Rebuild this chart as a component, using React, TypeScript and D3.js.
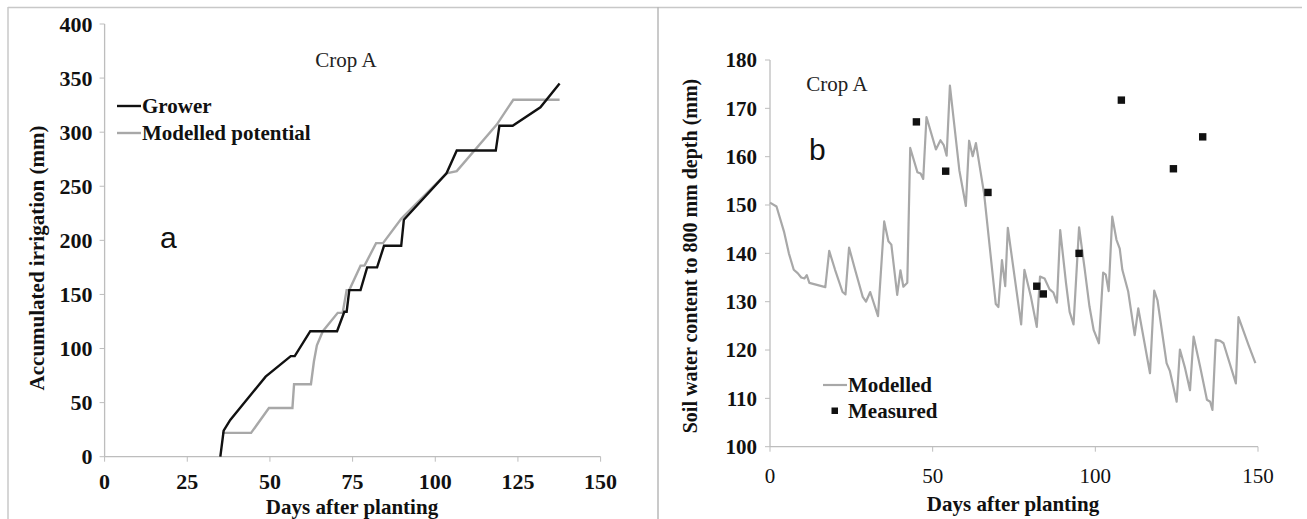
import React from "react";
import * as d3 from "d3";

const width = 1307;
const height = 519;

// panel a: accumulated irrigation
const growerDays = [35, 36, 38, 48.7, 56.3, 57.5, 62.2, 70.3, 72.5, 73.2, 74, 77.4, 79.4, 82.4, 84.5, 89.7, 90.5, 103.4, 106.5, 118.3, 119.4, 123.4, 131.8, 137.6];
const growerMm = [0, 24, 34, 74, 93, 93, 116, 116, 134, 134, 154, 154, 175, 175, 195, 195, 219, 262, 283, 283, 306, 306, 323, 345];
const potentialDays = [35.5, 44.3, 49.7, 56.8, 57.3, 62.4, 63.3, 64.2, 66, 70.5, 72, 73.2, 74, 77.4, 78.6, 82.1, 84.2, 89.7, 103.4, 106.5, 118.6, 123.6, 137.6];
const potentialMm = [22, 22, 45, 45, 67, 67, 88, 103, 116, 133, 133, 154, 154, 176.6, 176.6, 197.4, 197.4, 220, 262, 264, 307, 330, 330];
const xTicksA = [0, 25, 50, 75, 100, 125, 150];
const yTicksA = [0, 50, 100, 150, 200, 250, 300, 350, 400];

// panel b: soil water content
const swDays = [0, 2, 4.3, 5.8, 7.3, 8.5, 9.6, 10.6, 11.3, 12.1, 17, 18.2, 20, 22.3, 23.2, 24.3, 26.2, 28.5, 29.5, 30.8, 33.2, 35.1, 36.4, 37.3, 39.1, 40.1, 41, 42.2, 43.1, 45.3, 46.3, 47.1, 48.1, 51, 52.4, 53.4, 54.3, 55.3, 58.2, 60.2, 61.2, 62.3, 63.3, 65.8, 69.4, 70.2, 71.3, 72.3, 73.1, 77.2, 78.2, 80.2, 82, 83, 84.4, 85.9, 87.1, 88.2, 89.2, 91, 92.1, 93.3, 95, 96.7, 98.2, 99.5, 101.1, 102.4, 103.2, 104.1, 105.2, 106.5, 107.5, 108.3, 110.1, 112.1, 113.2, 116.8, 118.1, 119.1, 121.9, 122.9, 125, 126, 127.6, 129.1, 130.2, 132.2, 134.3, 135.3, 136, 137, 138.4, 139.4, 143.2, 144, 147.1, 149.2];
const swModelled = [150.5, 149.7, 144.5, 140, 136.6, 135.9, 135, 134.8, 135.5, 133.9, 133, 140.5, 136.6, 132, 131.5, 141.2, 136.5, 131, 130, 132, 127, 146.6, 142.5, 141.8, 131.4, 136.5, 133.1, 133.9, 161.8, 156.8, 156.5, 155.4, 168.2, 161.5, 163.4, 162.4, 160.2, 174.7, 157.2, 149.8, 163.3, 160.1, 162.8, 152.4, 129.5, 128.9, 138.6, 133.2, 145.3, 125.3, 136.6, 131, 124.8, 135.2, 134.8, 132.6, 131.9, 129.8, 144.8, 133.8, 127.9, 125.3, 145.4, 136.9, 129, 124.1, 121.4, 136, 135.6, 132.2, 147.6, 142.8, 141, 136.6, 132.1, 123.1, 128.6, 115.2, 132.3, 130.3, 117.3, 115.7, 109.3, 120.1, 116.2, 111.7, 122.8, 116.6, 109.7, 109.3, 107.6, 122.1, 121.9, 121.4, 113.1, 126.8, 121, 117.3];
const measuredDays = [45, 54, 67, 82, 84, 95, 108, 124, 133];
const measuredMm = [167.2, 157, 152.6, 133.2, 131.6, 140, 171.7, 157.5, 164.1];
const xTicksB = [0, 50, 100, 150];
const yTicksB = [100, 110, 120, 130, 140, 150, 160, 170, 180];

const serif = "'Liberation Serif', 'Times New Roman', serif";
const sans = "'Liberation Sans', Arial, sans-serif";
const axisColor = "#bdbdbd";
const grey = "#a8a8a8";

const App = () => {
  const xA = d3.scaleLinear().domain([0, 150]).range([104.6, 600.6]);
  const yA = d3.scaleLinear().domain([0, 400]).range([456.7, 24]);
  const xB = d3.scaleLinear().domain([0, 150]).range([770, 1258]);
  const yB = d3.scaleLinear().domain([100, 180]).range([446.7, 60]);

  const lineA = d3.line<number[]>().x((d) => xA(d[0])).y((d) => yA(d[1]));
  const lineB = d3.line<number[]>().x((d) => xB(d[0])).y((d) => yB(d[1]));

  const grower = growerDays.map((d, i) => [d, growerMm[i]]);
  const potential = potentialDays.map((d, i) => [d, potentialMm[i]]);
  const modelled = swDays.map((d, i) => [d, swModelled[i]]);

  return (
    <svg width={width} height={height} style={{ position: "absolute", left: 0, top: 0 }}>
      <rect width={width} height={height} fill="#fff" />
      {/* frame */}
      <line x1={8} x2={1302} y1={7.5} y2={7.5} stroke="#c8c8c8" strokeWidth={1.5} />
      <line x1={8} x2={8} y1={7} y2={height} stroke="#c8c8c8" strokeWidth={1.5} />
      <line x1={658} x2={658} y1={7} y2={height} stroke="#b8b8b8" strokeWidth={1.5} />

      {/* panel a axes */}
      <g fontFamily={serif} fontWeight="bold" fontSize={22} fill="#111">
        <line x1={xA(0)} x2={xA(0)} y1={yA(400)} y2={yA(0)} stroke={axisColor} strokeWidth={1.3} />
        <line x1={xA(0)} x2={xA(150)} y1={yA(0)} y2={yA(0)} stroke={axisColor} strokeWidth={1.3} />
        {yTicksA.map((t) => (
          <g key={t}>
            <line x1={xA(0) - 5} x2={xA(0)} y1={yA(t)} y2={yA(t)} stroke={axisColor} />
            <text x={xA(0) - 12} y={yA(t)} dy="0.35em" textAnchor="end">{t}</text>
          </g>
        ))}
        {xTicksA.map((t) => (
          <g key={t}>
            <line x1={xA(t)} x2={xA(t)} y1={yA(0)} y2={yA(0) + 5} stroke={axisColor} />
            <text x={xA(t)} y={489} textAnchor="middle">{t}</text>
          </g>
        ))}
        <text x={352} y={514} textAnchor="middle" fontSize={21}>Days after planting</text>
        <text transform="translate(44,258) rotate(-90)" textAnchor="middle" fontSize={21}>
          Accumulated irrigation (mm)
        </text>
      </g>
      <text x={346} y={67} textAnchor="middle" fontFamily={serif} fontSize={21} fill="#222">Crop A</text>
      <text x={160} y={248} fontFamily={sans} fontSize={30} fill="#111">a</text>

      <path d={lineA(potential) || ""} fill="none" stroke={grey} strokeWidth={2.4} />
      <path d={lineA(grower) || ""} fill="none" stroke="#111" strokeWidth={2.4} />

      {/* legend a */}
      <g fontFamily={serif} fontWeight="bold" fontSize={21} fill="#111">
        <line x1={117} x2={141} y1={106} y2={106} stroke="#111" strokeWidth={2.4} />
        <text x={142} y={113}>Grower</text>
        <line x1={117} x2={141} y1={133} y2={133} stroke={grey} strokeWidth={2.4} />
        <text x={142} y={140}>Modelled potential</text>
      </g>

      {/* panel b axes */}
      <g fontFamily={serif} fontSize={21} fill="#111">
        <line x1={xB(0)} x2={xB(0)} y1={yB(180)} y2={yB(100)} stroke={axisColor} strokeWidth={1.3} />
        <line x1={xB(0)} x2={xB(150)} y1={yB(100)} y2={yB(100)} stroke={axisColor} strokeWidth={1.3} />
        {yTicksB.map((t) => (
          <g key={t}>
            <line x1={xB(0) - 5} x2={xB(0)} y1={yB(t)} y2={yB(t)} stroke={axisColor} />
            <text x={xB(0) - 13} y={yB(t)} dy="0.35em" textAnchor="end" fontWeight="bold">{t}</text>
          </g>
        ))}
        {xTicksB.map((t) => (
          <g key={t}>
            <line x1={xB(t)} x2={xB(t)} y1={yB(100)} y2={yB(100) + 5} stroke={axisColor} />
            <text x={xB(t)} y={483} textAnchor="middle">{t}</text>
          </g>
        ))}
        <text x={1013} y={511} textAnchor="middle" fontSize={21} fontWeight="bold">Days after planting</text>
        <text transform="translate(697,256) rotate(-90)" textAnchor="middle" fontSize={20} fontWeight="bold">
          Soil water content to 800 mm depth (mm)
        </text>
      </g>
      <text x={837} y={91} textAnchor="middle" fontFamily={serif} fontSize={21} fill="#222">Crop A</text>
      <text x={809} y={160} fontFamily={sans} fontSize={30} fill="#111">b</text>

      <path d={lineB(modelled) || ""} fill="none" stroke={grey} strokeWidth={2.2} strokeLinejoin="round" />
      {measuredDays.map((d, i) => (
        <rect key={i} x={xB(d) - 3.7} y={yB(measuredMm[i]) - 3.7} width={7.4} height={7.4} fill="#111" />
      ))}

      {/* legend b */}
      <g fontFamily={serif} fontWeight="bold" fontSize={21} fill="#111">
        <line x1={823} x2={847} y1={385} y2={385} stroke={grey} strokeWidth={2.2} />
        <text x={848} y={392}>Modelled</text>
        <rect x={831.5} y={407.5} width={6.5} height={6.5} fill="#111" />
        <text x={848} y={418}>Measured</text>
      </g>
    </svg>
  );
};

export default App;
